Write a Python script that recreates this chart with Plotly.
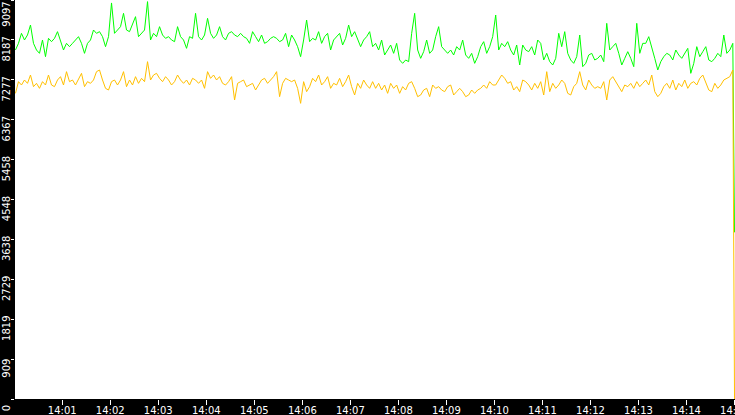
import pandas as pd
import plotly.graph_objects as go

# ---- data ----
start_time = "2024-01-01 14:00:01.6"
sample_step_s = 3.75
end_time = "2024-01-01 14:15:00"

green_values = [
    7957, 8109, 8337, 8185, 8299, 8527, 8109, 7957, 7881, 8185, 7805, 8223, 8147, 8223, 8375, 8185, 7957, 8109, 8033, 8109,
    8185, 8261, 8109, 7881, 8109, 8185, 8413, 8337, 8375, 8261, 8033, 8261, 9030, 8337, 8413, 8489, 8793, 8413, 8375, 8565,
    8717, 8261, 8337, 8413, 9060, 8185, 8337, 8261, 8489, 8299, 8223, 8261, 8185, 8147, 8489, 8261, 8185, 7995, 8261, 8223,
    8793, 8261, 8185, 8299, 8679, 8337, 8223, 8299, 8489, 8261, 8185, 8337, 8375, 8299, 8261, 8337, 8261, 8223, 8109, 8375,
    8261, 8147, 8299, 8109, 8147, 8223, 8261, 8223, 8147, 8185, 8337, 8033, 8299, 8185, 8033, 7805, 8185, 8641, 8147, 8223,
    8185, 8375, 8109, 8261, 8337, 7957, 8185, 8261, 8337, 8071, 8223, 8527, 8261, 8375, 8185, 8033, 8185, 8261, 8375, 8033,
    8109, 7957, 8185, 7843, 7957, 8071, 7881, 8109, 7729, 7653, 7729, 7691, 8337, 8793, 7957, 7767, 7919, 8185, 7881, 7957,
    8261, 8489, 8033, 7957, 7881, 7957, 7843, 8033, 7957, 8185, 7843, 7767, 7881, 7653, 7805, 8033, 8147, 7881, 8033, 8261,
    8755, 7957, 8109, 8033, 8147, 7957, 7843, 8071, 7615, 8071, 7957, 7919, 8033, 7843, 8185, 8109, 7729, 7881, 7691, 7615,
    7767, 8337, 8033, 8375, 7881, 7729, 7653, 7805, 8299, 7577, 7653, 7843, 7881, 7729, 7767, 7843, 7691, 8565, 7957, 8033,
    8109, 7881, 7615, 7767, 7919, 7767, 7577, 8565, 7881, 8109, 8109, 8261, 8033, 7767, 7501, 7691, 7805, 7881, 7843, 7729,
    7957, 7843, 7767, 7881, 7995, 7425, 7653, 8033, 7805, 7919, 8033, 7729, 7691, 7767, 7881, 7805, 8299, 7881, 7957, 8109,
]
green_last = 3800

orange_values = [
    6969, 7235, 7159, 7273, 7197, 7387, 7121, 7197, 7083, 7235, 7159, 7387, 7159, 7121, 7273, 7349, 7159, 7463, 7235, 7273,
    7159, 7311, 7425, 7121, 7235, 7197, 7273, 7463, 7501, 7273, 7083, 7045, 7235, 7273, 7159, 7273, 7463, 7121, 7273, 7159,
    7349, 7197, 7311, 7235, 7691, 7273, 7387, 7425, 7311, 7235, 7349, 7273, 7159, 7235, 7387, 7273, 7197, 7273, 7159, 7311,
    7273, 7197, 7273, 7083, 7463, 7311, 7387, 7273, 7349, 7197, 7159, 7235, 7349, 6817, 7197, 7235, 7273, 7121, 7159, 7197,
    7045, 7159, 7273, 7311, 7197, 7273, 7349, 7463, 6893, 7197, 7311, 7273, 7235, 7273, 7083, 6741, 7235, 7007, 7121, 7311,
    7235, 7387, 7159, 7235, 7349, 7083, 7197, 7159, 7311, 7121, 7235, 7387, 7121, 6931, 7197, 7083, 7273, 7159, 7083, 7235,
    7083, 7197, 7045, 7159, 6969, 7197, 7083, 7159, 6969, 7121, 7045, 7197, 7235, 7083, 6893, 6931, 7045, 7083, 6893, 7159,
    7083, 7121, 7045, 7007, 7121, 7159, 6931, 7007, 7083, 7007, 6893, 6931, 7045, 6969, 7045, 7083, 7159, 7083, 7235, 7159,
    7159, 7273, 7387, 7311, 7197, 7235, 7045, 7121, 7007, 7273, 7235, 7159, 7045, 7197, 7083, 7235, 6931, 7463, 7007, 7197,
    7083, 7159, 7273, 7197, 6969, 6931, 7121, 7197, 7463, 7159, 7045, 7273, 7159, 7083, 7121, 7083, 7235, 6817, 7273, 7349,
    7235, 7121, 7007, 7159, 7121, 7197, 7083, 7235, 7121, 7197, 7273, 7159, 7387, 7007, 6893, 6969, 7121, 7197, 7083, 7273,
    7045, 7197, 7121, 7273, 7083, 7197, 7235, 7159, 7311, 7387, 7197, 7045, 7007, 7197, 7083, 7159, 7273, 7311, 7349, 7501,
]
orange_last = 0

y_max = 9097
y_tick_labels = ["0", "909", "1819", "2729", "3638", "4548", "5458", "6367", "7277", "8187", "9097"]

# ---- build ----
times = list(pd.date_range(start=start_time, periods=len(green_values), freq=pd.Timedelta(seconds=sample_step_s)))
times.append(pd.Timestamp(end_time))
green = green_values + [green_last]
orange = orange_values + [orange_last]

y_tick_vals = [y_max * k / 10 for k in range(len(y_tick_labels))]

fig = go.Figure()
fig.add_trace(go.Scatter(x=times, y=green, mode="lines",
                         line=dict(color="#00ff00", width=1), hoverinfo="skip"))
# orange series sits on the overlaid axis (identical range) so it is drawn on top
fig.add_trace(go.Scatter(x=times, y=orange, mode="lines", yaxis="y2",
                         line=dict(color="#ffc000", width=1), hoverinfo="skip"))

font = dict(family="DejaVu Sans", size=10, color="white")

fig.update_layout(
    width=735, height=415,
    margin=dict(l=15, r=0, t=0, b=16, pad=0),
    paper_bgcolor="black", plot_bgcolor="white",
    showlegend=False,
    font=font,
)
fig.update_xaxes(
    type="date",
    range=["2024-01-01 14:00:01", "2024-01-01 14:15:00.6"],
    tickformat="%H:%M", dtick=60000, tick0="2024-01-01 14:00:00",
    ticks="outside", ticklen=5, tickcolor="white", tickwidth=1,
    tickfont=font, showgrid=False, zeroline=False, showline=False,
    ticklabeloverflow="allow", automargin=False, ticklabelstandoff=-3,
)
common_y = dict(
    range=[0, y_max], tickmode="array",
    tickangle=-90, ticks="outside", ticklen=3, tickcolor="white", tickwidth=1,
    tickfont=font, showgrid=False, zeroline=False, showline=False,
    ticklabelposition="outside bottom", ticklabelstandoff=0,
    ticklabeloverflow="allow", automargin=False,
)
# main axis: all ticks but the top one
fig.update_layout(yaxis=dict(**common_y, tickvals=y_tick_vals[:-1], ticktext=y_tick_labels[:-1],
                             ticklabelshift=3))
# top tick label is kept inside the picture, as in the reference
fig.update_layout(yaxis2=dict(**common_y, tickvals=y_tick_vals[-1:], ticktext=y_tick_labels[-1:],
                              ticklabelshift=8, overlaying="y", side="left", anchor="x"))

fig.write_html(
    "out.html",
    config={"displayModeBar": False},
    post_script="document.body.style.margin='0';document.body.style.background='black';",
)
